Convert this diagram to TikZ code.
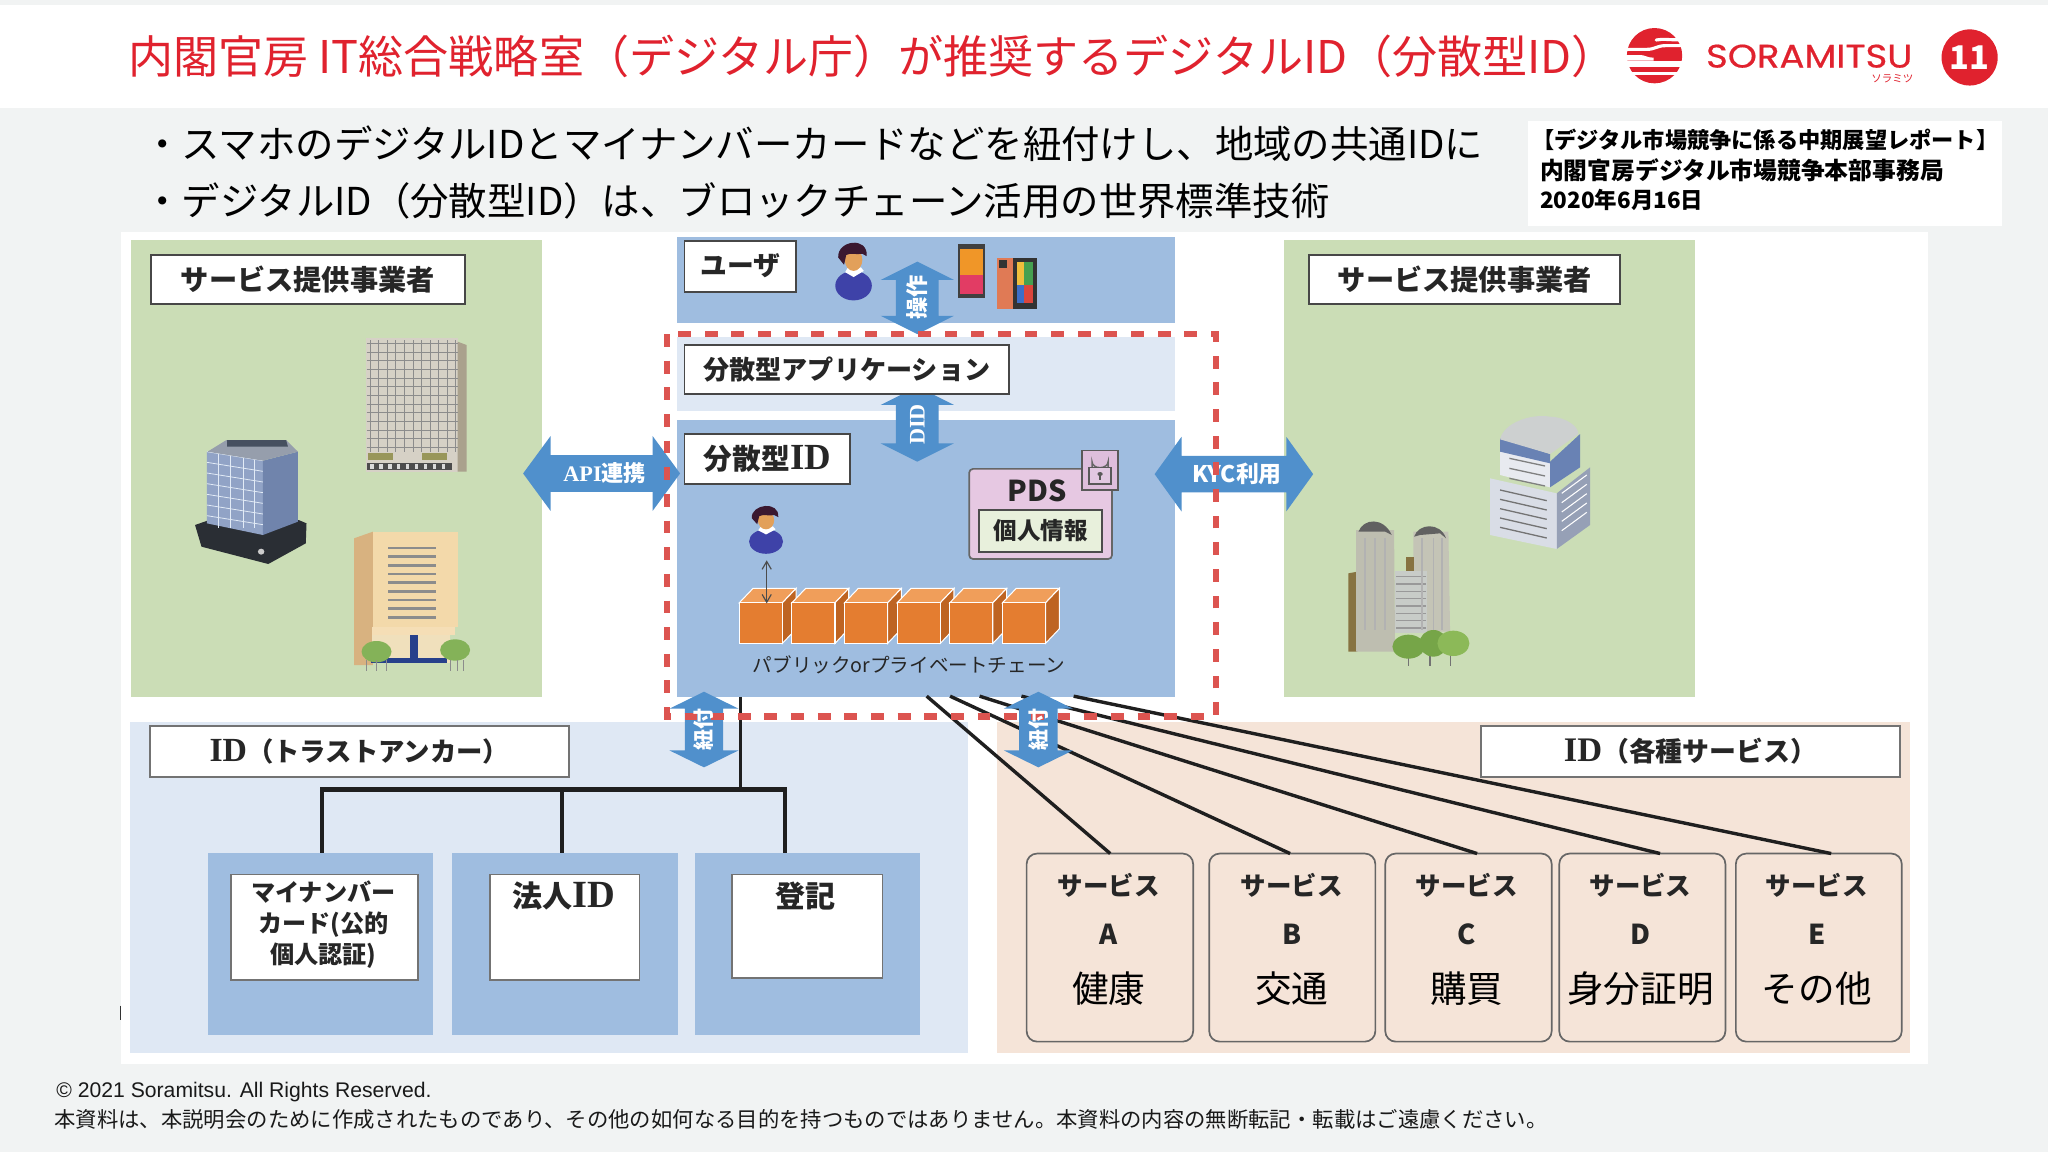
\documentclass[tikz,border=0pt]{standalone}
\usepackage{fontspec}
\setmainfont{Noto Sans CJK JP}
\newfontfamily\serifid{Liberation Serif}
\newfontfamily\helv{Liberation Sans}
\newfontfamily\popp[FakeBold=0.5]{Poppins}
\newcommand{\sid}[1]{\scalebox{1.28}{\serifid #1}}
\usetikzlibrary{arrows.meta}
\definecolor{bgc}{HTML}{F1F3F3}
\definecolor{redc}{HTML}{E0222E}
\definecolor{bluec}{HTML}{9FBDE0}
\definecolor{lblue}{HTML}{DFE8F4}
\definecolor{greenc}{HTML}{CBDDB6}
\definecolor{peach}{HTML}{F5E4D8}
\definecolor{arrowc}{HTML}{5090CC}
\definecolor{dashc}{HTML}{DC5450}
\definecolor{inkc}{HTML}{262626}
\newcommand{\rbox}[7]{%
  \pgfmathsetmacro{\rcx}{(#3+#5)/2}\pgfmathsetmacro{\rcy}{(#4+#6)/2}%
  \pgfmathsetmacro{\rw}{#5-#3}\pgfmathsetmacro{\rh}{#6-#4}%
  \node[#2,minimum width=\rw pt,minimum height=\rh pt] (#1) at (\rcx,\rcy) {#7};}
\newcommand{\varrow}[6]{% cx top bot headhw shafthw headlen
  \fill[arrowc] (#1,#2) -- ({#1+#4},{#2+#6}) -- ({#1+#5},{#2+#6}) -- ({#1+#5},{#3-#6}) -- ({#1+#4},{#3-#6}) -- (#1,#3) -- ({#1-#4},{#3-#6}) -- ({#1-#5},{#3-#6}) -- ({#1-#5},{#2+#6}) -- ({#1-#4},{#2+#6}) -- cycle;}
\newcommand{\harrow}[6]{% cy left right headhh shafthh headlen
  \fill[arrowc] (#2,#1) -- ({#2+#6},{#1-#4}) -- ({#2+#6},{#1-#5}) -- ({#3-#6},{#1-#5}) -- ({#3-#6},{#1-#4}) -- (#3,#1) -- ({#3-#6},{#1+#4}) -- ({#3-#6},{#1+#5}) -- ({#2+#6},{#1+#5}) -- ({#2+#6},{#1+#4}) -- cycle;}
\newcommand{\personpic}[4]{%
  \begin{scope}[shift={(#1,#2)},x=#3pt,y=-#4pt]
    \fill[fill={rgb,255:red,62;green,66;blue,168}] (.5,.76) ellipse (.5 and .24);
    \fill[white] (.27,.54) -- (.5,.62) -- (.78,.52) -- (.7,.46) -- (.35,.46) -- cycle;
    \fill[fill={rgb,255:red,226;green,160;blue,90}] (.5,.34) ellipse (.24 and .18);
    \fill[fill={rgb,255:red,58;green,24;blue,48}] (.08,.3) .. controls (.05,.02) and (.9,-.05) .. (.86,.28) -- (.74,.24) .. controls (.6,.26) and (.4,.22) .. (.3,.26) -- (.24,.42) -- cycle;
  \end{scope}}
\tikzset{
  lbl/.style={draw=inkc!85,line width=1.4pt,fill=white,inner sep=0pt,outer sep=0pt},
  lblg/.style={draw=black!55,line width=1.3pt,fill=white,inner sep=0pt,outer sep=0pt},
  area/.style={inner sep=0pt,outer sep=0pt,fill=#1},
  svc/.style={draw=black!60,line width=1.3pt,fill=peach,rounded corners=8pt,inner sep=0pt,outer sep=0pt},
  tb/.style={font=\fontsize{#1}{#1}\selectfont\bfseries,text=inkc,inner sep=0pt},
  tr/.style={font=\fontsize{#1}{#1}\selectfont,text=black,inner sep=0pt},
  tw/.style={font=\fontsize{#1}{#1}\selectfont\bfseries,text=white,inner sep=0pt},
  wire/.style={line width=#1,draw=black!88},
  zA/.style={shift={(91.9,176.1)},x=0.2735pt,y=-0.2552pt},
  zC/.style={shift={(497.7,176.1)},x=0.3418pt,y=-0.2552pt},
  zD/.style={shift={(972.4,176.1)},x=0.2552pt,y=-0.2552pt},
  zL/.style={shift={(1232.8,11.5)},x=0.2552pt,y=-0.2552pt},
  zP/.style={shift={(627.9,179.9)},x=0.2552pt,y=-0.2552pt},
}
\begin{document}
\begin{tikzpicture}[x=1pt,y=-1pt]
\useasboundingbox (0,0) rectangle (1568,882);
\fill[bgc] (0,0) rectangle (1568,882);
\fill[white] (0,4) rectangle (1568,83);
\fill[white] (93,178) rectangle (1476,815);
\fill[white] (1170,93) rectangle (1533,173);
% header
\node[anchor=west,font=\fontsize{34.5}{36}\selectfont,text=redc,inner sep=0pt] (title) at (98,43.5) {内閣官房 IT総合戦略室（デジタル庁）が推奨するデジタルID（分散型ID）};
\begin{scope}[zL]
  \fill[redc] (133,122) circle[radius=83];
  \draw[white,line width=2.4pt,line cap=round] (138,75) .. controls (160,70) and (180,76) .. (215,74);
  \draw[white,line width=2.4pt] (40,103) -- (110,103) .. controls (135,103) and (140,92) .. (165,92) -- (225,92);
  \fill[white] (40,137) rectangle (225,157);
  \fill[white] (40,171) rectangle (225,181);
  \fill[white] (40,120) -- (90,120) .. controls (105,120) and (110,128) .. (130,128) -- (130,137) -- (40,137) -- cycle;
  \fill[redc] (78,158) rectangle (124,170);
  \fill[redc] (142,158) rectangle (190,170);
\end{scope}
\node[anchor=west,font=\fontsize{25}{26}\selectfont\popp,text=redc,inner sep=0pt] (brand) at (1306,43) {\scalebox{1.135}[1]{SORAMITSU}};
\node[anchor=east,font=\fontsize{8}{9}\selectfont,text=redc,inner sep=0pt] (brandjp) at (1465,60.5) {ソラミツ};
\node[circle,fill=redc,minimum size=43pt,inner sep=0pt,font=\fontsize{25}{26}\selectfont\bfseries,text=white] (pageno) at (1508,44) {11};
% bullets
\node[anchor=west,font=\fontsize{29.4}{30}\selectfont,text=black,inner sep=0pt] (b1) at (109.5,110) {・スマホのデジタルIDとマイナンバーカードなどを紐付けし、地域の共通IDに};
\node[anchor=west,font=\fontsize{29.4}{30}\selectfont,text=black,inner sep=0pt] (b2) at (109.5,153.5) {・デジタルID（分散型ID）は、ブロックチェーン活用の世界標準技術};
\node[anchor=west,font=\fontsize{17}{18}\selectfont\bfseries,text=black,inner sep=0pt] (cite1) at (1173,107) {【デジタル市場競争に係る中期展望レポート】};
\node[anchor=west,font=\fontsize{18.2}{19}\selectfont\bfseries,text=black,inner sep=0pt] (cite2) at (1179,130) {内閣官房デジタル市場競争本部事務局};
\node[anchor=west,font=\fontsize{17.2}{19}\selectfont\bfseries,text=black,inner sep=0pt] (cite3) at (1179,153) {2020年6月16日};
% areas
\rbox{gl}{area=greenc}{100.5}{184}{415}{533.5}{}
\rbox{gr}{area=greenc}{983}{184}{1297.5}{533.5}{}
\rbox{userband}{area=bluec}{518}{181.5}{899.5}{247}{}
\rbox{appband}{area=lblue}{518}{258}{899.5}{314.5}{}
\rbox{idband}{area=bluec}{518}{321.5}{899.5}{533.5}{}
\rbox{pl}{area=lblue}{99.5}{552.5}{741}{806}{}
\rbox{pr}{area=peach}{763.5}{552.5}{1462.5}{806}{}
% left buildings
\begin{scope}[zA]
  \fill[fill={rgb,255:red,214;green,209;blue,198}] (688,325) rectangle (945,725);
  \fill[fill={rgb,255:red,170;green,161;blue,141}] (945,335) -- (970,345) -- (970,725) -- (945,725) -- cycle;
  \foreach \yy in {340,366,...,660} \draw[black!45,line width=.7pt] (690,\yy) -- (945,\yy);
  \foreach \xx in {700,724,...,940} \draw[black!45,line width=.7pt] (\xx,330) -- (\xx,665);
  \fill[fill={rgb,255:red,152;green,150;blue,90}] (695,668) rectangle (765,690);
  \fill[fill={rgb,255:red,152;green,150;blue,90}] (845,668) rectangle (915,690);
  \fill[black!70] (690,700) rectangle (930,720);
  \foreach \xx in {700,725,...,920} \fill[white!85!black] (\xx,702) rectangle ++(10,16);
  % glass building
  \fill[fill={rgb,255:red,42;green,46;blue,52}] (210,885) -- (250,870) -- (500,870) -- (522,880) -- (520,940) -- (415,1002) -- (228,950) -- cycle;
  \fill[fill={rgb,255:red,145;green,163;blue,198}] (243,665) -- (400,692) -- (400,915) -- (243,880) -- cycle;
  \fill[fill={rgb,255:red,112;green,132;blue,172}] (400,692) -- (498,665) -- (498,875) -- (400,915) -- cycle;
  \foreach \yy in {0,1,...,6} \draw[white!70!bluec,line width=.6pt] (243,{665+\yy*32}) -- (400,{692+\yy*32});
  \foreach \xx in {275,310,345,375} \draw[white!70!bluec,line width=.6pt] (\xx,672) -- (\xx,895);
  \fill[fill={rgb,255:red,150;green,158;blue,172}] (245,665) -- (298,630) -- (465,630) -- (498,665) -- (400,692) -- cycle;
  \fill[fill={rgb,255:red,70;green,80;blue,96}] (300,630) -- (465,630) -- (470,650) -- (300,650) -- cycle;
  \fill[white!80!black] (395,965) circle[radius=9];
  % tan building
  \fill[fill={rgb,255:red,216;green,178;blue,128}] (655,925) -- (708,905) -- (708,1305) -- (655,1305) -- cycle;
  \fill[fill={rgb,255:red,243;green,217;blue,170}] (708,905) rectangle (945,1190);
  \foreach \yy in {950,976,...,1160} \fill[black!45] (750,\yy) rectangle (885,\yy+8);
  \fill[fill={rgb,255:red,245;green,222;blue,182}] (705,1190) rectangle (938,1215);
  \fill[fill={rgb,255:red,240;green,224;blue,188}] (705,1215) rectangle (925,1300);
  \fill[fill={rgb,255:red,39;green,64;blue,139}] (812,1215) rectangle (835,1285);
  \fill[fill={rgb,255:red,39;green,64;blue,139}] (702,1285) rectangle (915,1300);
  \fill[fill={rgb,255:red,132;green,178;blue,88}] (718,1265) ellipse (42 and 32);
  \fill[fill={rgb,255:red,132;green,178;blue,88}] (938,1260) ellipse (42 and 32);
  \foreach \xx in {690,718,745,925,945,960} \draw[black!45,line width=.7pt] (\xx,1290) -- (\xx,1322);
\end{scope}
% right buildings
\begin{scope}[zD]
  \fill[fill={rgb,255:red,217;green,221;blue,230}] (660,745) -- (860,790) -- (860,957) -- (660,915) -- cycle;
  \fill[fill={rgb,255:red,150;green,160;blue,182}] (860,790) -- (960,712) -- (960,885) -- (860,957) -- cycle;
  \foreach \dd in {0,28,...,130} {
    \draw[black!55,line width=1pt] (690,{780+\dd}) -- (830,{812+\dd});
    \draw[white,line width=.8pt] (875,{790+\dd}) -- (950,{735+\dd});}
  \fill[fill={rgb,255:red,232;green,234;blue,240}] (690,650) -- (840,695) -- (840,772) -- (690,735) -- cycle;
  \fill[fill={rgb,255:red,105;green,130;blue,180}] (840,695) -- (930,612) -- (930,712) -- (840,772) -- cycle;
  \foreach \dd in {0,30,60} \draw[black!50,line width=1pt] (718,{685+\dd}) -- (825,{708+\dd});
  \fill[fill={rgb,255:red,105;green,130;blue,180}] (690,625) -- (840,672) -- (840,700) -- (690,665) -- cycle;
  \fill[fill={rgb,255:red,205;green,208;blue,208}] (690,628) .. controls (700,580) and (780,550) .. (840,560) .. controls (890,562) and (925,590) .. (925,612) -- (840,672) -- cycle;
  % towers
  \fill[fill={rgb,255:red,135;green,115;blue,65}] (235,1030) -- (262,1025) -- (262,1265) -- (235,1265) -- cycle;
  \fill[fill={rgb,255:red,190;green,190;blue,176}] (258,900) -- (372,900) -- (375,1265) -- (258,1265) -- cycle;
  \fill[fill={rgb,255:red,196;green,196;blue,182}] (430,905) -- (535,905) -- (540,1205) -- (430,1205) -- cycle;
  \fill[fill={rgb,255:red,135;green,115;blue,65}] (407,980) rectangle (432,1025);
  \fill[fill={rgb,255:red,200;green,204;blue,200}] (375,1022) rectangle (472,1210);
  \foreach \yy in {1040,1062,...,1200} \draw[black!40,line width=.8pt] (378,\yy) -- (468,\yy);
  \foreach \xx in {285,315,345,455,490,515} \draw[white!70!black,line width=1.2pt] (\xx,925) -- (\xx,1200);
  \fill[black!62] (265,905) .. controls (280,865) and (340,860) .. (365,915) -- (345,905) -- (290,905) -- cycle;
  \fill[black!62] (432,920) .. controls (445,880) and (510,875) .. (528,925) -- (510,910) -- (450,915) -- cycle;
  \foreach \xx in {415,480,542} \draw[black!55,line width=1pt] (\xx,1270) -- (\xx,1308);
  \fill[fill={rgb,255:red,118;green,165;blue,72}] (415,1250) ellipse (48 and 36);
  \fill[fill={rgb,255:red,118;green,165;blue,72}] (490,1240) ellipse (42 and 40);
  \fill[fill={rgb,255:red,140;green,185;blue,88}] (550,1240) ellipse (48 and 38);
\end{scope}
% phones
\begin{scope}[zP]
  \fill[black!75] (413,28) rectangle (495,190);
  \fill[fill={rgb,255:red,240;green,150;blue,40}] (420,42) rectangle (488,120);
  \fill[fill={rgb,255:red,226;green,60;blue,100}] (420,120) rectangle (488,178);
  \fill[fill={rgb,255:red,224;green,122;blue,85}] (530,68) rectangle (585,222);
  \fill[black!80] (537,76) rectangle (560,100);
  \fill[black!80] (580,68) rectangle (652,222);
  \fill[fill={rgb,255:red,240;green,190;blue,60}] (590,80) rectangle (612,150);
  \fill[fill={rgb,255:red,70;green,160;blue,80}] (612,80) rectangle (640,150);
  \fill[fill={rgb,255:red,60;green,110;blue,200}] (590,150) rectangle (612,205);
  \fill[fill={rgb,255:red,220;green,70;blue,60}] (612,150) rectangle (640,205);
\end{scope}
\personpic{639.5}{183}{28}{47}
% connectors
\coordinate (trunk) at (566.8,604.5);
\coordinate (ta) at (246.6,653);
\coordinate (tb) at (430,653);
\coordinate (tc) at (601,653);
\coordinate (la) at (709.5,533);
\coordinate (lb) at (727.4,533);
\coordinate (lc) at (750,533);
\coordinate (ld) at (782,533);
\coordinate (le) at (822,533);
% service boxes
\rbox{svA}{svc}{786}{653.5}{913.5}{797.5}{}
\rbox{svB}{svc}{925.8}{653.5}{1053}{797.5}{}
\rbox{svC}{svc}{1060.6}{653.5}{1188}{797.5}{}
\rbox{svD}{svc}{1193.8}{653.5}{1321}{797.5}{}
\rbox{svE}{svc}{1329}{653.5}{1456}{797.5}{}
\coordinate (ea) at (850,653.5);
\coordinate (eb) at (987.7,653.5);
\coordinate (ec) at (1130.9,653.5);
\coordinate (ed) at (1271,653.5);
\coordinate (ee) at (1402,653.5);
\draw[wire=2.6pt] (la) -- (ea);
\draw[wire=2.6pt] (lb) -- (eb);
\draw[wire=2.6pt] (lc) -- (ec);
\draw[wire=2.6pt] (ld) -- (ed);
\draw[wire=2.6pt] (le) -- (ee);
\draw[wire=2.6pt] (trunk |- idband.south) -- (trunk);
\draw[wire=3.2pt] (ta) |- (trunk);
\draw[wire=3.2pt] (tc) |- (trunk);
\draw[wire=3.2pt] (tb) -- (tb |- trunk);
% tree boxes
\rbox{ba}{area=bluec}{159}{653}{331.3}{792.5}{}
\rbox{bb}{area=bluec}{346}{653}{519}{792.5}{}
\rbox{bc}{area=bluec}{532}{653}{704.5}{792.5}{}
\rbox{ia}{lblg}{177}{669.5}{320}{750.5}{}
\rbox{ib}{lblg}{375}{669.5}{489.7}{750.5}{}
\rbox{ic}{lblg}{560.6}{669.5}{675.7}{749}{}
\node[tb=18.5,font=\fontsize{18.5}{23.7}\selectfont\bfseries,align=center] (ta1) at (247.5,708) {マイナンバー\\カード(公的\\個人認証)};
\node[tb=23] (ta2) at (431.5,686) {法人\sid{ID}};
\node[tb=23] (ta3) at (617,686) {登記};
% block arrows
\harrow{362.5}{400.5}{520.7}{28.6}{14}{21}
\harrow{363}{884}{1005.4}{28.6}{14}{20.6}
\varrow{702.3}{200.3}{255.8}{28}{16.4}{14}
\varrow{702.3}{296}{353.5}{28}{16.4}{14}
\varrow{539}{529.6}{587.5}{26.5}{14.7}{13}
\varrow{795}{529.6}{587.5}{26.5}{14.7}{13}
% label boxes
\rbox{lgl}{lbl}{115.7}{195}{355.7}{232.8}{\raisebox{1.5pt}{\fontsize{21.6}{22}\selectfont\bfseries\textcolor{inkc}{サービス提供事業者}}}
\rbox{lgr}{lbl}{1002.5}{195}{1240.5}{232.8}{\raisebox{1.5pt}{\fontsize{21.6}{22}\selectfont\bfseries\textcolor{inkc}{サービス提供事業者}}}
\rbox{lu}{lbl}{524}{184.3}{609.5}{223.3}{\fontsize{20.5}{22}\selectfont\bfseries\textcolor{inkc}{ユーザ}}
\rbox{lapp}{lbl}{524}{264}{772.8}{301.7}{\fontsize{20}{22}\selectfont\bfseries\textcolor{inkc}{分散型アプリケーション}}
\rbox{lid}{lbl}{524}{332.3}{651}{370.7}{\fontsize{22}{24}\selectfont\bfseries\textcolor{inkc}{分散型\sid{ID}}}
\rbox{lta}{lblg}{115}{556}{435.4}{594.7}{\fontsize{20.2}{22}\selectfont\bfseries\textcolor{inkc}{\sid{ID}（トラストアンカー）}}
\rbox{lsv}{lblg}{1134}{556}{1454.8}{594.7}{\fontsize{20.6}{22}\selectfont\bfseries\textcolor{inkc}{\sid{ID}（各種サービス）}}
% PDS
\rbox{pds}{draw=black!60,fill={rgb,255:red,230;green,200;blue,226},rounded corners=3pt,line width=1.3pt,inner sep=0pt,outer sep=0pt}{742}{359}{851.4}{428}{}
\rbox{pinfo}{draw=black!70,fill={rgb,255:red,232;green,240;blue,220},line width=1.3pt,inner sep=0pt,outer sep=0pt}{749.6}{390.5}{843.8}{422.4}{\fontsize{18}{20}\selectfont\bfseries\textcolor{inkc}{個人情報}}
\node[tr=22,text=inkc,font=\fontsize{22}{24}\selectfont\bfseries] (pdst) at (794,376) {PDS};
\rbox{lockb}{draw=black!65,fill={rgb,255:red,222;green,190;blue,220},line width=1.1pt,inner sep=0pt,outer sep=0pt}{828.5}{345}{856}{375}{}
\begin{scope}[zC]
  \draw[black!60,line width=1.1pt] (990,712) -- (990,695) arc[start angle=180,end angle=0,x radius=18,y radius=18] -- (1026,712);
  \draw[black!65,line width=1.1pt,fill={rgb,255:red,226;green,200;blue,226}] (983,712) rectangle (1032,762);
  \fill[black!65] (1008,732) circle[radius=6];
  \draw[black!65,line width=1.2pt] (1008,732) -- (1008,750);
\end{scope}
% chain
\personpic{573.5}{385}{26}{39}
\foreach \i in {0,...,5} {
  \pgfmathsetmacro{\bx}{566+40.3*\i}
  \fill[fill={rgb,255:red,240;green,158;blue,90},draw=white,line width=.8pt] (\bx,461.5) -- ({\bx+10.5},450.5) -- ({\bx+43.5},450.5) -- ({\bx+33},461.5) -- cycle;
  \fill[fill={rgb,255:red,190;green,100;blue,34},draw=white,line width=.8pt] ({\bx+33},461.5) -- ({\bx+43.5},450.5) -- ({\bx+43.5},481.5) -- ({\bx+33},492.6) -- cycle;
  \fill[fill={rgb,255:red,228;green,125;blue,48},draw=white,line width=.8pt] (\bx,461.5) rectangle ({\bx+33},492.6);
}
\coordinate (ap) at (587,429);
\coordinate (aq) at (587,462);
\draw[{Straight Barb[length=6pt,width=7pt]}-{Straight Barb[length=6pt,width=7pt]},black!70,line width=.9pt] (ap) -- (aq);
\node[font=\fontsize{15}{18}\selectfont,text=inkc,inner sep=0pt] (chain) at (696,509) {パブリックorプライベートチェーン};
\node[tw=17.5] (tkyc) at (947,363) {KYC利用};
% dashed frame
\coordinate (fa) at (510.8,255.8);
\coordinate (fb) at (931,548.5);
\draw[dashc,line width=5pt,dash pattern=on 9.8pt off 10.6pt] (fa) rectangle (fb);
% arrow labels
\node[tw=17] (tapi) at (463,362.5) {{\serifid API}連携};
\node[tw=17,rotate=90] (tops) at (702.3,228) {操作};
\node[tw=17,rotate=90] (tdid) at (702.3,325) {\serifid DID};
\node[tw=16,rotate=90] (tl1) at (539,558.5) {紐付};
\node[tw=16,rotate=90] (tl2) at (795,558.5) {紐付};
% service text
\foreach \nm/\xx/\ll/\ww in {A/849/A/健康,B/989/B/交通,C/1123/C/購買,D/1256/D/身分証明,E/1391/E/その他} {
  \node[tr=20,font=\fontsize{19.5}{22}\selectfont\bfseries,text=inkc] (sa\nm) at (\xx,677.5) {サービス};
  \node[tb=21] (sb\nm) at (\xx,715.5) {\ll};
  \node[tr=28] (sc\nm) at (\xx,757) {\ww};
}
% footer
\node[anchor=west,font=\fontsize{16.2}{18}\selectfont\helv,text=black!90,inner sep=0pt] (c1) at (43,836) {© 2021 Soramitsu. All Rights Reserved.};
\node[anchor=west,font=\fontsize{16.35}{18}\selectfont,text=black!90,inner sep=0pt] (c2) at (41.5,857) {本資料は、本説明会のために作成されたものであり、その他の如何なる目的を持つものではありません。本資料の内容の無断転記・転載はご遠慮ください。};
\draw[black!80,line width=1pt] (92.5,770) -- (92.5,781);
\end{tikzpicture}
\end{document}
